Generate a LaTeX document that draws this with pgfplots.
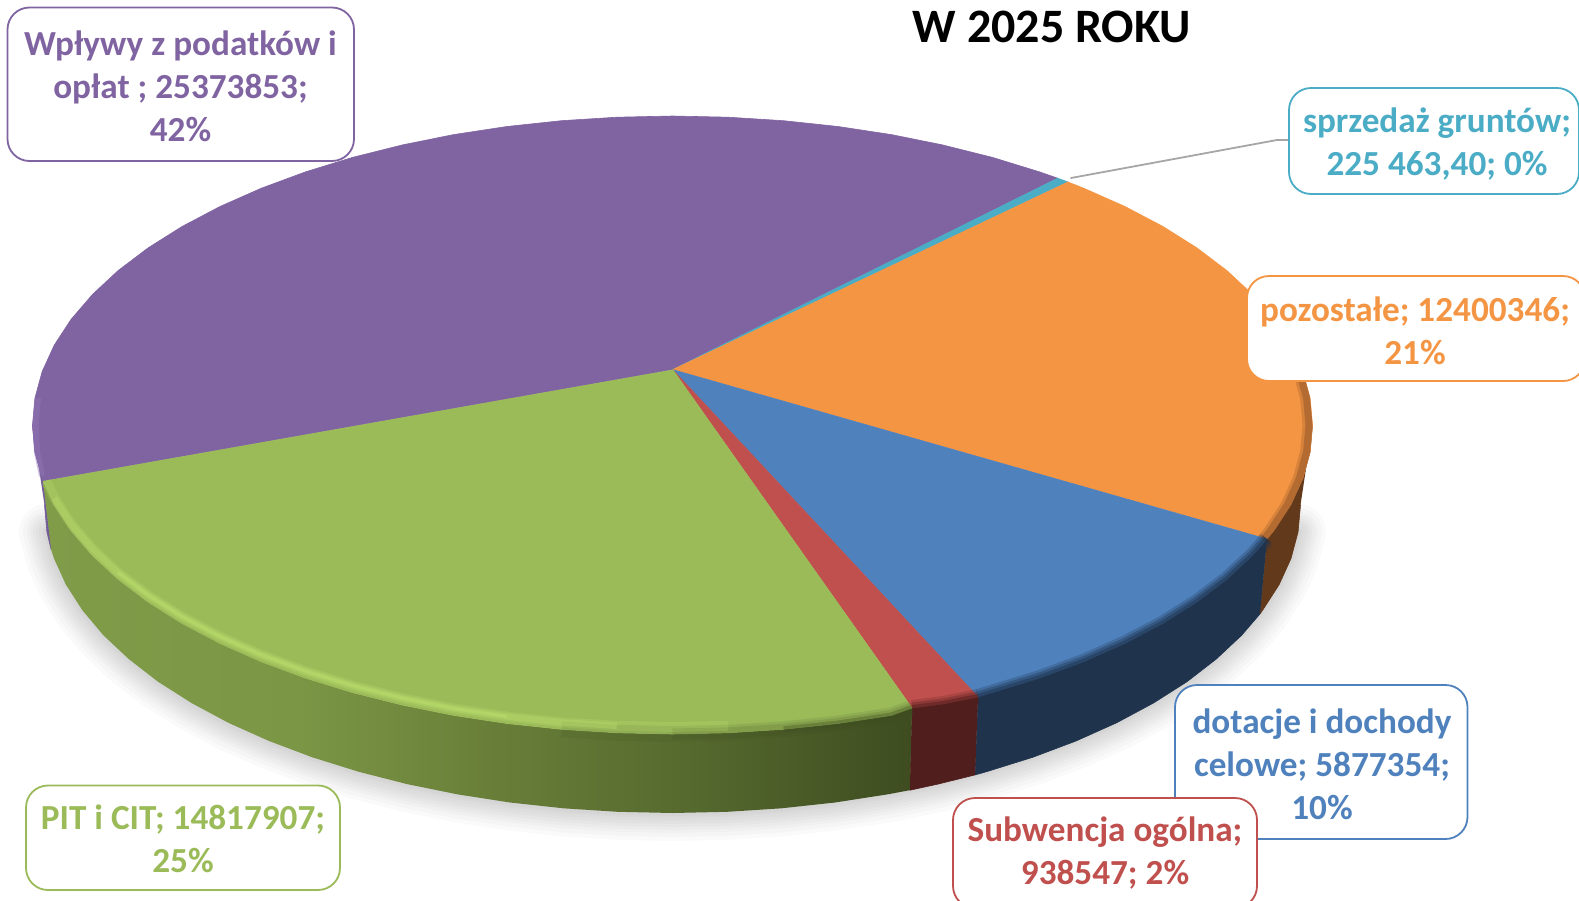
\documentclass[border=0pt]{standalone}
\usepackage{pgfplots}
\pgfplotsset{compat=1.18}
\usepackage{pgfplotstable}
\usepackage{fontspec}
\setmainfont{Carlito}

\definecolor{cpurple}{HTML}{8064A2}
\definecolor{cgreen}{HTML}{9BBB59}
\definecolor{cred}{HTML}{C0504D}
\definecolor{cblue}{HTML}{4F81BD}
\definecolor{corange}{HTML}{F49544}
\definecolor{cteal}{HTML}{4BACC6}
\definecolor{spurple}{HTML}{735A99}
\definecolor{sred}{HTML}{501E1C}
\definecolor{sblue}{HTML}{1F334D}
\definecolor{sorange}{HTML}{63391B}
\definecolor{gA}{HTML}{809C49}
\definecolor{gB}{HTML}{7B9645}
\definecolor{gC}{HTML}{687E38}
\definecolor{gD}{HTML}{55692E}
\definecolor{gE}{HTML}{3E4C20}
\definecolor{bev}{HTML}{BFE370}
\definecolor{bevpurple}{HTML}{9175B8}
\pgfdeclarehorizontalshading{greenside}{100bp}{color(0bp)=(gA); color(25bp)=(gA); color(39.7bp)=(gB); color(51.1bp)=(gC); color(62.5bp)=(gD); color(75bp)=(gE); color(100bp)=(gE)}

% lower rim of the disc, for the soft shadow
\pgfplotstableread{
x y
1298.1 531.9
1291 558.5
1279.1 584.7
1262.6 610.3
1241.7 635.2
1216.3 659
1187 681.7
1153.5 703
1116.6 722.8
1076.2 740.9
1032.7 757.3
986.5 771.7
937.9 784.1
887.3 794.4
835 802.5
781.5 808.3
727.3 811.8
672.5 813
617.7 811.8
563.5 808.3
510 802.5
457.7 794.4
407.1 784.1
358.5 771.7
312.3 757.3
268.8 740.9
228.4 722.8
191.5 703
158 681.7
128.7 659
103.3 635.2
82.4 610.3
65.9 584.7
54 558.5
46.9 531.9
}\lowrim

% edge of the top face, right and front
\pgfplotstableread{
x y
1290.7 345
1302.8 371.4
1310.1 398.1
1312.5 425
1310.1 451.9
1302.8 478.6
1290.7 505
1273.9 530.7
1267 539
}\rimorange
\pgfplotstableread{
x y
1267 539
1252.5 555.6
1226.8 579.5
1196.8 602.2
1162.8 623.6
1125 643.5
1083.9 661.7
1039.6 678.1
992.5 692.6
978 697
}\rimblue
\pgfplotstableread{
x y
978 697
943 704
912 708
}\rimred
\pgfplotstableread{
x y
912 708
891.4 715.4
838.1 723.5
783.6 729.3
}\rimgreenA
\pgfplotstableread{
x y
912 708
891.4 715.4
838.1 723.5
783.6 729.3
728.3 732.8
672.5 734
}\rimgreenB
\pgfplotstableread{
x y
912 708
891.4 715.4
838.1 723.5
783.6 729.3
728.3 732.8
672.5 734
616.7 732.8
561.4 729.3
}\rimgreenC
% light band just inside the front edge, left part
\pgfplotstableread{
x y
46 481
54.3 498
71.1 523.7
92.5 548.6
118.2 572.5
148.2 595.2
182.2 616.6
220 636.5
261.1 654.7
305.4 671.1
352.5 685.6
402 698
453.6 708.4
506.9 716.5
561.4 722.3
616.7 725.8
672.5 727
728.3 725.8
}\bevAll
\pgfplotstableread{
x y
54.3 498
71.1 523.7
92.5 548.6
118.2 572.5
148.2 595.2
182.2 616.6
220 636.5
261.1 654.7
305.4 671.1
352.5 685.6
402 698
453.6 708.4
506.9 716.5
561.4 722.3
616.7 725.8
}\bevMid
\pgfplotstableread{
x y
118.2 572.5
148.2 595.2
182.2 616.6
220 636.5
261.1 654.7
305.4 671.1
352.5 685.6
402 698
453.6 708.4
506.9 716.5
}\bevCore
\pgfplotstableread{
x y
42 476
37 452
35.5 425
38 398
}\bevP

\begin{document}
\begin{tikzpicture}
\useasboundingbox (0,0) rectangle (789.5pt,450pt);
\begin{axis}[
    at={(0,0)},anchor=south west,
    scale only axis,width=789.5pt,height=450pt,
    xmin=0,xmax=1579,ymin=0,ymax=900,y dir=reverse,
    hide axis,clip=false,no markers,
    every axis plot/.append style={line join=round,line cap=round},
]
% shadow
\addplot[draw=black,opacity=0.02,line width=28pt] table {\lowrim};
\addplot[draw=black,opacity=0.02,line width=24pt] table {\lowrim};
\addplot[draw=black,opacity=0.02,line width=20pt] table {\lowrim};
\addplot[draw=black,opacity=0.02,line width=17pt] table {\lowrim};
\addplot[draw=black,opacity=0.02,line width=14pt] table {\lowrim};
\addplot[draw=black,opacity=0.02,line width=11pt] table {\lowrim};
\addplot[draw=black,opacity=0.02,line width=8pt] table {\lowrim};
\addplot[draw=black,opacity=0.02,line width=5pt] table {\lowrim};
\addplot[draw=black,opacity=0.02,line width=3pt] table {\lowrim};

% side faces
\addplot[fill=spurple,draw=spurple,line width=.3pt] coordinates {
(32.5,425)(34.9,451.9)(43,481)(51.2,550)(46.9,531.9)(44.5,505)};
\addplot[fill=sorange,draw=sorange,line width=.3pt] coordinates {
(1312.5,425)(1310.1,451.9)(1302.8,478.6)(1290.7,505)(1273.9,530.7)(1267,539)
(1260,613.9)(1262.6,610.3)(1279.1,584.7)(1291,558.5)(1298.1,531.9)(1300.5,505)};
\addplot[fill=sblue,draw=sblue,line width=.3pt] coordinates {
(1267,539)(1252.5,555.6)(1226.8,579.5)(1196.8,602.2)(1162.8,623.6)(1125,643.5)
(1083.9,661.7)(1039.6,678.1)(992.5,692.6)(978,697)
(975.1,774.9)(986.5,771.7)(1032.7,757.3)(1076.2,740.9)(1116.6,722.8)(1153.5,703)
(1187,681.7)(1216.3,659)(1241.7,635.2)(1260,613.9)};
\addplot[fill=sred,draw=sred,line width=.3pt] coordinates {
(978,697)(943,704)(912,708)(909.8,790.2)(937.9,784.1)(975.1,774.9)};
\addplot[draw=none,shade,shading=greenside] coordinates {
(912,708)(891.4,715.4)(838.1,723.5)(783.6,729.3)(728.3,732.8)(672.5,734)(616.7,732.8)
(561.4,729.3)(506.9,723.5)(453.6,715.4)(402,705)(352.5,692.6)(305.4,678.1)(261.1,661.7)
(220,643.5)(182.2,623.6)(148.2,602.2)(118.2,579.5)(92.5,555.6)(71.1,530.7)(54.3,505)(43,481)
(51.2,550)(54,558.5)(65.9,584.7)(82.4,610.3)(103.3,635.2)(128.7,659)(158,681.7)(191.5,703)
(228.4,722.8)(268.8,740.9)(312.3,757.3)(358.5,771.7)(407.1,784.1)(457.7,794.4)(510,802.5)
(563.5,808.3)(617.7,811.8)(672.5,813)(727.3,811.8)(781.5,808.3)(835,802.5)(887.3,794.4)(909.8,790.2)};

% top faces
\addplot[fill=cpurple,draw=cpurple,line width=.3pt] coordinates {
(672.7,369.6)(43,481)(34.9,451.9)(32.5,425)(34.9,398.1)(42.2,371.4)(54.3,345)(71.1,319.3)
(92.5,294.4)(118.2,270.5)(148.2,247.8)(182.2,226.4)(220,206.5)(261.1,188.3)(305.4,171.9)
(352.5,157.4)(402,145)(453.6,134.6)(506.9,126.5)(561.4,120.7)(616.7,117.2)(672.5,116)
(728.3,117.2)(783.6,120.7)(838.1,126.5)(891.4,134.6)(943,145)(992.5,157.4)(1039.6,171.9)(1057.7,178.2)};
\addplot[fill=cteal,draw=cteal,line width=.3pt] coordinates {
(672.7,369.6)(1057.7,178.2)(1068,182)};
\addplot[fill=corange,draw=corange,line width=.3pt] coordinates {
(672.7,369.6)(1068,182)(1083.9,188.3)(1125,206.5)(1162.8,226.4)(1196.8,247.8)(1226.8,270.5)
(1252.5,294.4)(1273.9,319.3)(1290.7,345)(1302.8,371.4)(1310.1,398.1)(1312.5,425)(1310.1,451.9)
(1302.8,478.6)(1290.7,505)(1273.9,530.7)(1267,539)};
\addplot[fill=cblue,draw=cblue,line width=.3pt] coordinates {
(672.7,369.6)(1267,539)(1252.5,555.6)(1226.8,579.5)(1196.8,602.2)(1162.8,623.6)(1125,643.5)
(1083.9,661.7)(1039.6,678.1)(992.5,692.6)(978,697)};
\addplot[fill=cred,draw=cred,line width=.3pt] coordinates {
(672.7,369.6)(978,697)(943,704)(912,708)};
\addplot[fill=cgreen,draw=cgreen,line width=.3pt] coordinates {
(672.7,369.6)(912,708)(891.4,715.4)(838.1,723.5)(783.6,729.3)(728.3,732.8)(672.5,734)(616.7,732.8)
(561.4,729.3)(506.9,723.5)(453.6,715.4)(402,705)(352.5,692.6)(305.4,678.1)(261.1,661.7)
(220,643.5)(182.2,623.6)(148.2,602.2)(118.2,579.5)(92.5,555.6)(71.1,530.7)(54.3,505)(43,481)};

% soft edge where the top face turns into the side
\addplot[draw=sorange,opacity=.2,line width=5pt,line cap=butt,xshift=-2.5pt] table {\rimorange};
\addplot[draw=sblue,opacity=.25,line width=8pt,line cap=butt] table {\rimblue};
\addplot[draw=sred,opacity=.2,line width=8pt,line cap=butt] table {\rimred};
\addplot[draw=gE,opacity=.12,line width=8pt,line cap=butt] table {\rimgreenC};
\addplot[draw=sorange,opacity=.3,line width=3.5pt,line cap=butt,xshift=-1.75pt] table {\rimorange};
\addplot[draw=sblue,opacity=.35,line width=5.5pt,line cap=butt] table {\rimblue};
\addplot[draw=sred,opacity=.3,line width=5.5pt,line cap=butt] table {\rimred};
\addplot[draw=gE,opacity=.15,line width=5.5pt,line cap=butt] table {\rimgreenB};
\addplot[draw=sblue,opacity=.5,line width=3pt,line cap=butt] table {\rimblue};
\addplot[draw=sred,opacity=.5,line width=3pt,line cap=butt] table {\rimred};
\addplot[draw=gE,opacity=.35,line width=3pt,line cap=butt] table {\rimgreenA};
% light bevel on the left
\addplot[draw=bevpurple,opacity=.45,line width=3pt,line cap=butt] table {\bevP};
\addplot[draw=bev,opacity=.2,line width=5pt,line cap=butt] table {\bevAll};
\addplot[draw=bev,opacity=.3,line width=3.2pt,line cap=butt] table {\bevMid};
\addplot[draw=bev,opacity=.4,line width=1.6pt,line cap=butt] table {\bevCore};

% leader
\addplot[draw=black!35,line width=.9pt] coordinates {(1071,178)(1277,140)(1288,140)};

% labels
\tikzset{lab/.style={line width=.9pt,fill=white,rounded corners=11pt},
         txt/.style={align=center,font=\fontsize{17.6}{21.5}\selectfont\bfseries,inner sep=0pt}}
\draw[lab,draw=cpurple] (axis cs:7.5,7.5) rectangle (axis cs:354,161);
\node[txt,text=cpurple] at (axis cs:180.5,86) {Wpływy z podatków i\\opłat ; 25373853;\\42\%};
\draw[lab,draw=cteal] (axis cs:1289,88) rectangle (axis cs:1579,194);
\node[txt,text=cteal] at (axis cs:1437,144) {sprzedaż gruntów;\\225 463,40; 0\%};
\draw[lab,draw=corange] (axis cs:1247,276) rectangle (axis cs:1585,381);
\node[txt,text=corange] at (axis cs:1415,331) {pozostałe; 12400346;\\21\%};
\draw[lab,draw=cblue] (axis cs:1175,685) rectangle (axis cs:1467.5,839);
\node[txt,text=cblue] at (axis cs:1322,764) {dotacje i dochody\\celowe; 5877354;\\10\%};
\draw[lab,draw=cred] (axis cs:953,798) rectangle (axis cs:1257,908);
\node[txt,text=cred] at (axis cs:1105,853.5) {Subwencja ogólna;\\938547; 2\%};
\draw[lab,draw=cgreen] (axis cs:26,785.5) rectangle (axis cs:340,890);
\node[txt,text=cgreen] at (axis cs:183,839) {PIT i CIT; 14817907;\\25\%};

% title
\node[font=\fontsize{24}{29}\selectfont\bfseries,text=black,inner sep=0pt] at (axis cs:1052,27) {W 2025 ROKU};
\end{axis}
\end{tikzpicture}
\end{document}
